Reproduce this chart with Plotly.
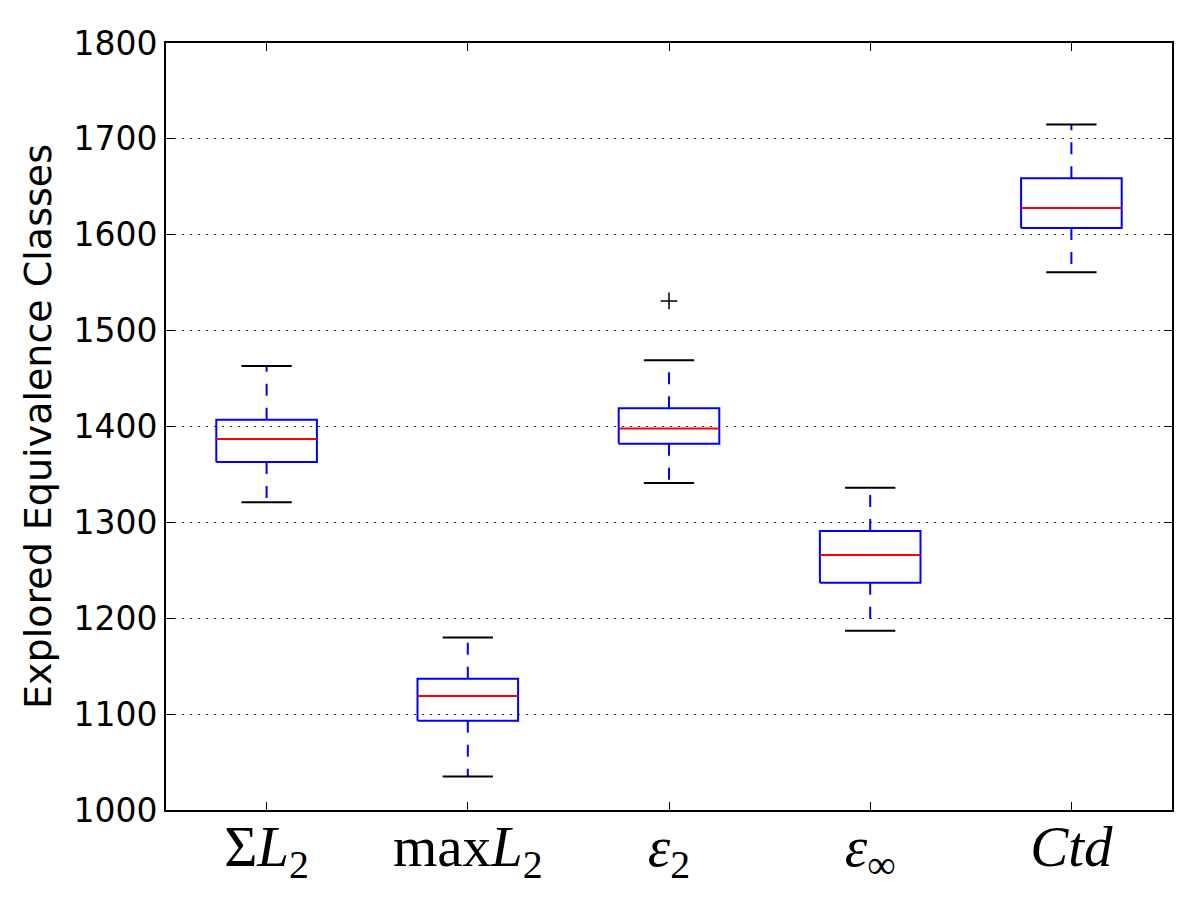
import plotly.graph_objects as go

categories = ["Σ<i>L</i><sub>2</sub>", "max<i>L</i><sub>2</sub>", "<i>ε</i><sub>2</sub>",
              "<i>ε</i><sub>∞</sub>", "<i>Ctd</i>"]
lower_whisker = [1321, 1035, 1341, 1187, 1561]
q1 = [1363, 1093, 1382, 1237, 1607]
median = [1387, 1119, 1398, 1266, 1628]
q3 = [1407, 1137, 1419, 1291, 1659]
upper_whisker = [1463, 1180, 1469, 1336, 1715]
outlier_cat = [3]
outlier_val = [1531]

positions = list(range(1, len(categories) + 1))
half_box = 0.25
half_cap = 0.125

bx, by, mx, my, wx, wy, cx, cy = [], [], [], [], [], [], [], []
for p, lo, a, m, b, hi in zip(positions, lower_whisker, q1, median, q3, upper_whisker):
    bx += [p - half_box, p + half_box, p + half_box, p - half_box, p - half_box, None]
    by += [a, a, b, b, a, None]
    mx += [p - half_box, p + half_box, None]
    my += [m, m, None]
    wx += [p, p, None, p, p, None]
    wy += [b, hi, None, a, lo, None]
    cx += [p - half_cap, p + half_cap, None, p - half_cap, p + half_cap, None]
    cy += [hi, hi, None, lo, lo, None]

fig = go.Figure()
fig.add_trace(go.Scatter(x=wx, y=wy, mode="lines", line=dict(color="blue", width=2, dash="12px,12px"),
                         hoverinfo="skip", showlegend=False))
fig.add_trace(go.Scatter(x=cx, y=cy, mode="lines", line=dict(color="black", width=2),
                         hoverinfo="skip", showlegend=False))
fig.add_trace(go.Scatter(x=bx, y=by, mode="lines", line=dict(color="blue", width=2),
                         hoverinfo="skip", showlegend=False))
fig.add_trace(go.Scatter(x=mx, y=my, mode="lines", line=dict(color="red", width=2),
                         hoverinfo="skip", showlegend=False))
fig.add_trace(go.Scatter(x=outlier_cat, y=outlier_val, mode="markers",
                         marker=dict(symbol="cross-thin", size=12, line=dict(color="black", width=1.5)),
                         showlegend=False))

fig.update_layout(
    width=1200, height=900,
    margin=dict(l=166, r=28, t=43, b=90),
    paper_bgcolor="white", plot_bgcolor="white",
    font=dict(family="DejaVu Sans", color="black"),
)
fig.update_xaxes(
    range=[0.5, 5.5], tickmode="array", tickvals=positions, ticktext=categories,
    tickfont=dict(family="Liberation Serif", size=57, color="black"),
    showgrid=False, zeroline=False, automargin=False, ticklabelstandoff=-14,
    showline=True, linecolor="black", linewidth=2, mirror="ticks",
    ticks="inside", ticklen=8, tickwidth=1, tickcolor="black",
)
fig.update_yaxes(
    range=[1000, 1800], tickmode="array", tickvals=list(range(1000, 1801, 100)),
    tickfont=dict(family="DejaVu Sans", size=33, color="black"),
    title=dict(text="Explored Equivalence Classes", font=dict(family="DejaVu Sans", size=38, color="black"),
               standoff=10),
    showgrid=True, gridcolor="#333333", gridwidth=1, griddash="2px,6px",
    zeroline=False, automargin=False,
    showline=True, linecolor="black", linewidth=2, mirror="ticks",
    ticks="inside", ticklen=8, tickwidth=1, tickcolor="black",
)

fig.write_html("out.html")
